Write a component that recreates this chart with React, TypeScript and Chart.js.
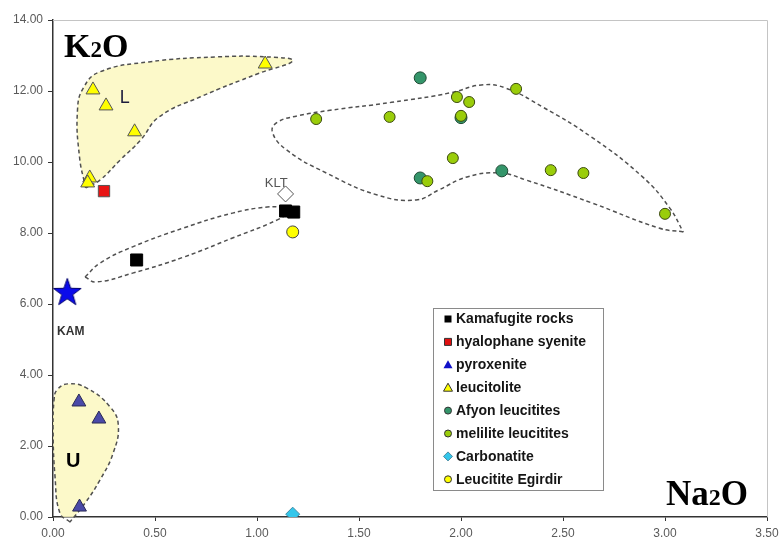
import React, { useEffect, useRef } from 'react';
import { Chart, registerables } from 'chart.js';

Chart.register(...registerables);

// ---------- data ----------
const xTicks = [0, 0.5, 1, 1.5, 2, 2.5, 3, 3.5];
const yTicks = [0, 2, 4, 6, 8, 10, 12, 14];

const kamafugiteX = [0.41, 1.14, 1.18];
const kamafugiteY = [7.24, 8.62, 8.59];

const hyalophaneX = [0.25];
const hyalophaneY = [9.18];

const pyroxeniteX = [0.127, 0.225, 0.13];
const pyroxeniteY = [3.24, 2.76, 0.28];

const leucitoliteX = [0.196, 0.26, 0.4, 1.04, 0.18, 0.17];
const leucitoliteY = [12.03, 11.58, 10.85, 12.76, 9.55, 9.41];

const afyonX = [1.8, 2.0, 1.8, 2.2];
const afyonY = [12.37, 11.25, 9.55, 9.75];

const meliliteX = [1.29, 1.65, 1.98, 2.04, 2.0, 2.27, 1.96, 1.835, 2.44, 2.6, 3.0];
const meliliteY = [11.21, 11.27, 11.83, 11.69, 11.3, 12.06, 10.11, 9.46, 9.77, 9.69, 8.54];

const carbonatiteX = [1.175];
const carbonatiteY = [0.08];

const egirdirX = [1.175];
const egirdirY = [8.03];

const kltX = [1.14];
const kltY = [9.1];

const kamX = [0.07];
const kamY = [6.34];

// field outlines (closed curves)
const lFieldX = [0.16, 0.13, 0.12, 0.15, 0.23, 0.47, 0.8, 1.05, 1.175, 1.01, 0.72, 0.52, 0.43, 0.33, 0.23, 0.16];
const lFieldY = [9.27, 10.14, 11.46, 12.1, 12.54, 12.82, 12.96, 12.96, 12.85, 12.5, 11.83, 11.27, 10.62, 10.06, 9.49, 9.27];

const uFieldX = [0.083, 0.034, 0.01, 0.0, 0.005, 0.02, 0.073, 0.166, 0.28, 0.32, 0.295, 0.23, 0.157, 0.083];
const uFieldY = [-0.14, 0.11, 1.13, 2.54, 3.3, 3.58, 3.75, 3.63, 3.1, 2.59, 1.8, 1.04, 0.39, -0.14];

const kamaFieldX = [0.157, 0.23, 0.39, 0.64, 0.88, 1.05, 1.13, 1.15, 1.1, 0.88, 0.64, 0.39, 0.21, 0.157];
const kamaFieldY = [6.76, 7.15, 7.61, 8.14, 8.56, 8.73, 8.7, 8.59, 8.37, 7.86, 7.32, 6.87, 6.62, 6.76];

const leuFieldX = [3.09, 2.97, 2.64, 2.32, 2.19, 2.03, 1.89, 1.78, 1.59, 1.34, 1.145, 1.075, 1.1, 1.2, 1.35, 1.66, 1.95, 2.1, 2.22, 2.4, 2.64, 2.89, 3.02, 3.09];
const leuFieldY = [8.03, 8.14, 8.85, 9.49, 9.69, 9.58, 9.21, 8.93, 9.07, 9.69, 10.34, 10.85, 11.12, 11.3, 11.45, 11.68, 11.95, 12.17, 12.08, 11.55, 10.7, 9.58, 8.73, 8.03];

const legendLabels = [
  'Kamafugite rocks',
  'hyalophane syenite',
  'pyroxenite',
  'leucitolite',
  'Afyon leucitites',
  'melilite leucitites',
  'Carbonatite',
  'Leucitite Egirdir',
];

// text labels: [text, x, y]
const fieldLabels: [string, number, number][] = [
  ['L', 0.327, 11.66],
  ['U', 0.064, 1.41],
  ['KLT', 1.038, 9.3],
  ['KAM', 0.02, 5.13],
];
const k2oLabel: [number, number] = [0.054, 12.96];
const na2oLabel: [number, number] = [3.005, 0.34];

// ---------- helpers ----------
const pts = (xs: number[], ys: number[]) => xs.map((x, i) => ({ x, y: ys[i] }));

function makeStar(): HTMLCanvasElement {
  const c = document.createElement('canvas');
  c.width = 32;
  c.height = 32;
  const g = c.getContext('2d')!;
  g.beginPath();
  for (let i = 0; i < 10; i++) {
    const r = i % 2 === 0 ? 14.5 : 5.8;
    const a = -Math.PI / 2 + (i * Math.PI) / 5;
    g.lineTo(16 + r * Math.cos(a), 17 + r * Math.sin(a));
  }
  g.closePath();
  g.fillStyle = '#0b0bea';
  g.fill();
  g.strokeStyle = '#00006a';
  g.lineWidth = 1;
  g.stroke();
  return c;
}

const SANS = '"Liberation Sans", Arial, sans-serif';
const SERIF = '"Liberation Serif", "Times New Roman", serif';

function drawMarker(ctx: CanvasRenderingContext2D, kind: number, x: number, y: number) {
  ctx.save();
  ctx.lineWidth = 1;
  ctx.strokeStyle = '#333';
  ctx.beginPath();
  switch (kind) {
    case 0:
      ctx.fillStyle = '#000';
      ctx.rect(x - 3.5, y - 3.5, 7, 7);
      ctx.fill();
      break;
    case 1:
      ctx.fillStyle = '#e01010';
      ctx.rect(x - 3.5, y - 3.5, 7, 7);
      ctx.fill();
      ctx.stroke();
      break;
    case 2:
      ctx.fillStyle = '#1010c8';
      ctx.moveTo(x, y - 4.5);
      ctx.lineTo(x + 4.5, y + 3.5);
      ctx.lineTo(x - 4.5, y + 3.5);
      ctx.closePath();
      ctx.fill();
      break;
    case 3:
      ctx.fillStyle = '#ffff00';
      ctx.moveTo(x, y - 4.5);
      ctx.lineTo(x + 4.5, y + 3.5);
      ctx.lineTo(x - 4.5, y + 3.5);
      ctx.closePath();
      ctx.fill();
      ctx.stroke();
      break;
    case 4:
      ctx.fillStyle = '#34956a';
      ctx.arc(x, y, 3.5, 0, Math.PI * 2);
      ctx.fill();
      ctx.stroke();
      break;
    case 5:
      ctx.fillStyle = '#9acd0a';
      ctx.arc(x, y, 3.5, 0, Math.PI * 2);
      ctx.fill();
      ctx.stroke();
      break;
    case 6:
      ctx.fillStyle = '#33c6ea';
      ctx.moveTo(x, y - 4.5);
      ctx.lineTo(x + 4.5, y);
      ctx.lineTo(x, y + 4.5);
      ctx.lineTo(x - 4.5, y);
      ctx.closePath();
      ctx.fill();
      ctx.strokeStyle = '#4a8aa0';
      ctx.stroke();
      break;
    case 7:
      ctx.fillStyle = '#ffff00';
      ctx.arc(x, y, 3.5, 0, Math.PI * 2);
      ctx.fill();
      ctx.stroke();
      break;
  }
  ctx.restore();
}

function drawOxide(ctx: CanvasRenderingContext2D, a: string, sub: string, b: string, x: number, y: number, size: number) {
  ctx.save();
  ctx.fillStyle = '#000';
  ctx.textBaseline = 'alphabetic';
  ctx.textAlign = 'left';
  ctx.font = `bold ${size}px ${SERIF}`;
  ctx.fillText(a, x, y);
  let cx = x + ctx.measureText(a).width;
  ctx.font = `bold ${Math.round(size * 0.68)}px ${SERIF}`;
  ctx.fillText(sub, cx, y);
  cx += ctx.measureText(sub).width;
  ctx.font = `bold ${size}px ${SERIF}`;
  ctx.fillText(b, cx, y);
  ctx.restore();
}

const framePlugin = {
  id: 'frame',
  beforeDatasetsDraw(chart: any) {
    const { ctx, chartArea: a } = chart;
    ctx.save();
    ctx.strokeStyle = '#c4c4c4';
    ctx.lineWidth = 1;
    ctx.beginPath();
    ctx.moveTo(a.left, a.top + 0.5);
    ctx.lineTo(a.right + 0.5, a.top + 0.5);
    ctx.lineTo(a.right + 0.5, a.bottom);
    ctx.stroke();
    ctx.restore();
  },
};

const labelPlugin = {
  id: 'labels',
  afterDatasetsDraw(chart: any) {
    const { ctx, scales } = chart;
    const xs = scales.x;
    const ys = scales.y;
    drawOxide(ctx, 'K', '2', 'O', xs.getPixelForValue(k2oLabel[0]), ys.getPixelForValue(k2oLabel[1]), 34);
    drawOxide(ctx, 'Na', '2', 'O', xs.getPixelForValue(na2oLabel[0]), ys.getPixelForValue(na2oLabel[1]), 35);

    const styles: Record<string, [string, string]> = {
      L: [`18px ${SANS}`, '#1c1c3c'],
      U: [`bold 20px ${SANS}`, '#000'],
      KLT: [`13px ${SANS}`, '#555'],
      KAM: [`bold 12px ${SANS}`, '#333'],
    };
    ctx.save();
    ctx.textAlign = 'left';
    ctx.textBaseline = 'alphabetic';
    for (const [t, vx, vy] of fieldLabels) {
      const [f, c] = styles[t];
      ctx.font = f;
      ctx.fillStyle = c;
      ctx.fillText(t, xs.getPixelForValue(vx), ys.getPixelForValue(vy));
    }
    ctx.restore();

    // legend box
    const a = chart.chartArea;
    const left = a.left + 380;
    const top = a.top + 288;
    const w = 170;
    const h = 182;
    ctx.save();
    ctx.fillStyle = '#fff';
    ctx.fillRect(left, top, w, h);
    ctx.strokeStyle = '#8a8a8a';
    ctx.lineWidth = 1;
    ctx.strokeRect(left + 0.5, top + 0.5, w, h);
    ctx.font = `bold 14px ${SANS}`;
    ctx.fillStyle = '#151515';
    ctx.textBaseline = 'middle';
    legendLabels.forEach((lab, i) => {
      const yy = top + 11 + i * 22.9;
      drawMarker(ctx, i, left + 15, yy);
      ctx.fillText(lab, left + 23, yy + 0.5);
    });
    ctx.restore();
  },
};

export default function App() {
  const ref = useRef<HTMLCanvasElement | null>(null);

  useEffect(() => {
    if (!ref.current) return;
    const star = makeStar();
    const outline = (data: { x: number; y: number }[], filled: boolean) => ({
      data,
      showLine: true,
      pointRadius: 0,
      borderColor: '#505050',
      borderWidth: 1.5,
      borderDash: [4, 3],
      tension: 0.45,
      backgroundColor: filled ? 'rgba(252, 248, 192, 0.85)' : 'transparent',
      fill: filled ? 'shape' : false,
      clip: false,
    });

    const chart = new Chart(ref.current, {
      type: 'scatter',
      data: {
        datasets: [
          {
            label: 'KAM',
            data: pts(kamX, kamY),
            pointStyle: star as any,
            pointRadius: 14,
          },
          {
            label: legendLabels[0],
            data: pts(kamafugiteX, kamafugiteY),
            pointStyle: 'rect',
            pointRadius: 8.5,
            backgroundColor: '#000',
            borderColor: '#000',
            borderWidth: 1,
          },
          {
            label: legendLabels[1],
            data: pts(hyalophaneX, hyalophaneY),
            pointStyle: 'rect',
            pointRadius: 8,
            backgroundColor: '#e81515',
            borderColor: '#555',
            borderWidth: 1,
          },
          {
            label: legendLabels[7],
            data: pts(egirdirX, egirdirY),
            pointStyle: 'circle',
            pointRadius: 6,
            backgroundColor: '#ffff00',
            borderColor: '#444',
            borderWidth: 1,
          },
          {
            label: 'KLT',
            data: pts(kltX, kltY),
            pointStyle: 'rectRot',
            pointRadius: 8,
            backgroundColor: '#fff',
            borderColor: '#555',
            borderWidth: 1,
          },
          {
            label: legendLabels[6],
            data: pts(carbonatiteX, carbonatiteY),
            pointStyle: 'rectRot',
            pointRadius: 7,
            backgroundColor: '#33c6ea',
            borderColor: '#3d8aa5',
            borderWidth: 1,
          },
          {
            label: legendLabels[5],
            data: pts(meliliteX, meliliteY),
            pointStyle: 'circle',
            pointRadius: 5.5,
            backgroundColor: '#9acd0a',
            borderColor: '#3c4a10',
            borderWidth: 1,
          },
          {
            label: legendLabels[4],
            data: pts(afyonX, afyonY),
            pointStyle: 'circle',
            pointRadius: 6,
            backgroundColor: '#34956a',
            borderColor: '#1e4a34',
            borderWidth: 1,
          },
          {
            label: legendLabels[3],
            data: pts(leucitoliteX, leucitoliteY),
            pointStyle: 'triangle',
            pointRadius: 8,
            backgroundColor: '#ffff00',
            borderColor: '#555',
            borderWidth: 1,
          },
          {
            label: legendLabels[2],
            data: pts(pyroxeniteX, pyroxeniteY),
            pointStyle: 'triangle',
            pointRadius: 8,
            backgroundColor: '#4a4aa8',
            borderColor: '#2a2a55',
            borderWidth: 1,
          },
          { label: 'L field', ...outline(pts(lFieldX, lFieldY), true) } as any,
          { label: 'U field', ...outline(pts(uFieldX, uFieldY), true) } as any,
          { label: 'Kamafugite field', ...outline(pts(kamaFieldX, kamaFieldY), false) } as any,
          { label: 'Leucitite field', ...outline(pts(leuFieldX, leuFieldY), false) } as any,
        ],
      },
      options: {
        animation: false,
        responsive: true,
        maintainAspectRatio: false,
        layout: { padding: { top: 20, right: 14, left: 0, bottom: 0 } },
        plugins: {
          legend: { display: false },
          tooltip: { enabled: false },
        },
        scales: {
          x: {
            type: 'linear',
            min: 0,
            max: 3.5,
            afterBuildTicks: (s: any) => {
              s.ticks = xTicks.map((v) => ({ value: v }));
            },
            afterFit: (s: any) => {
              s.height = 22;
              s.paddingLeft = 0;
              s.paddingRight = 0;
            },
            ticks: {
              color: '#5a5a5a',
              font: { family: SANS, size: 12 },
              padding: 5,
              maxRotation: 0,
              callback: (v: any) => Number(v).toFixed(2),
            },
            grid: { display: true, drawOnChartArea: false, drawTicks: true, tickLength: 4, color: '#333' },
            border: { display: true, color: '#333', width: 1.5 },
          },
          y: {
            type: 'linear',
            min: 0,
            max: 14,
            afterBuildTicks: (s: any) => {
              s.ticks = yTicks.map((v) => ({ value: v }));
            },
            afterFit: (s: any) => {
              s.width = 53;
              s.paddingTop = 0;
              s.paddingBottom = 0;
            },
            ticks: {
              color: '#5a5a5a',
              font: { family: SANS, size: 12 },
              padding: 5,
              callback: (v: any) => Number(v).toFixed(2),
            },
            grid: { display: true, drawOnChartArea: false, drawTicks: true, tickLength: 5, color: '#333' },
            border: { display: true, color: '#333', width: 1.5 },
          },
        },
      },
      plugins: [framePlugin, labelPlugin],
    });
    return () => chart.destroy();
  }, []);

  return (
    <div style={{ position: 'absolute', left: 0, top: 0, width: 782, height: 539, background: '#fff' }}>
      <canvas ref={ref} />
    </div>
  );
}
